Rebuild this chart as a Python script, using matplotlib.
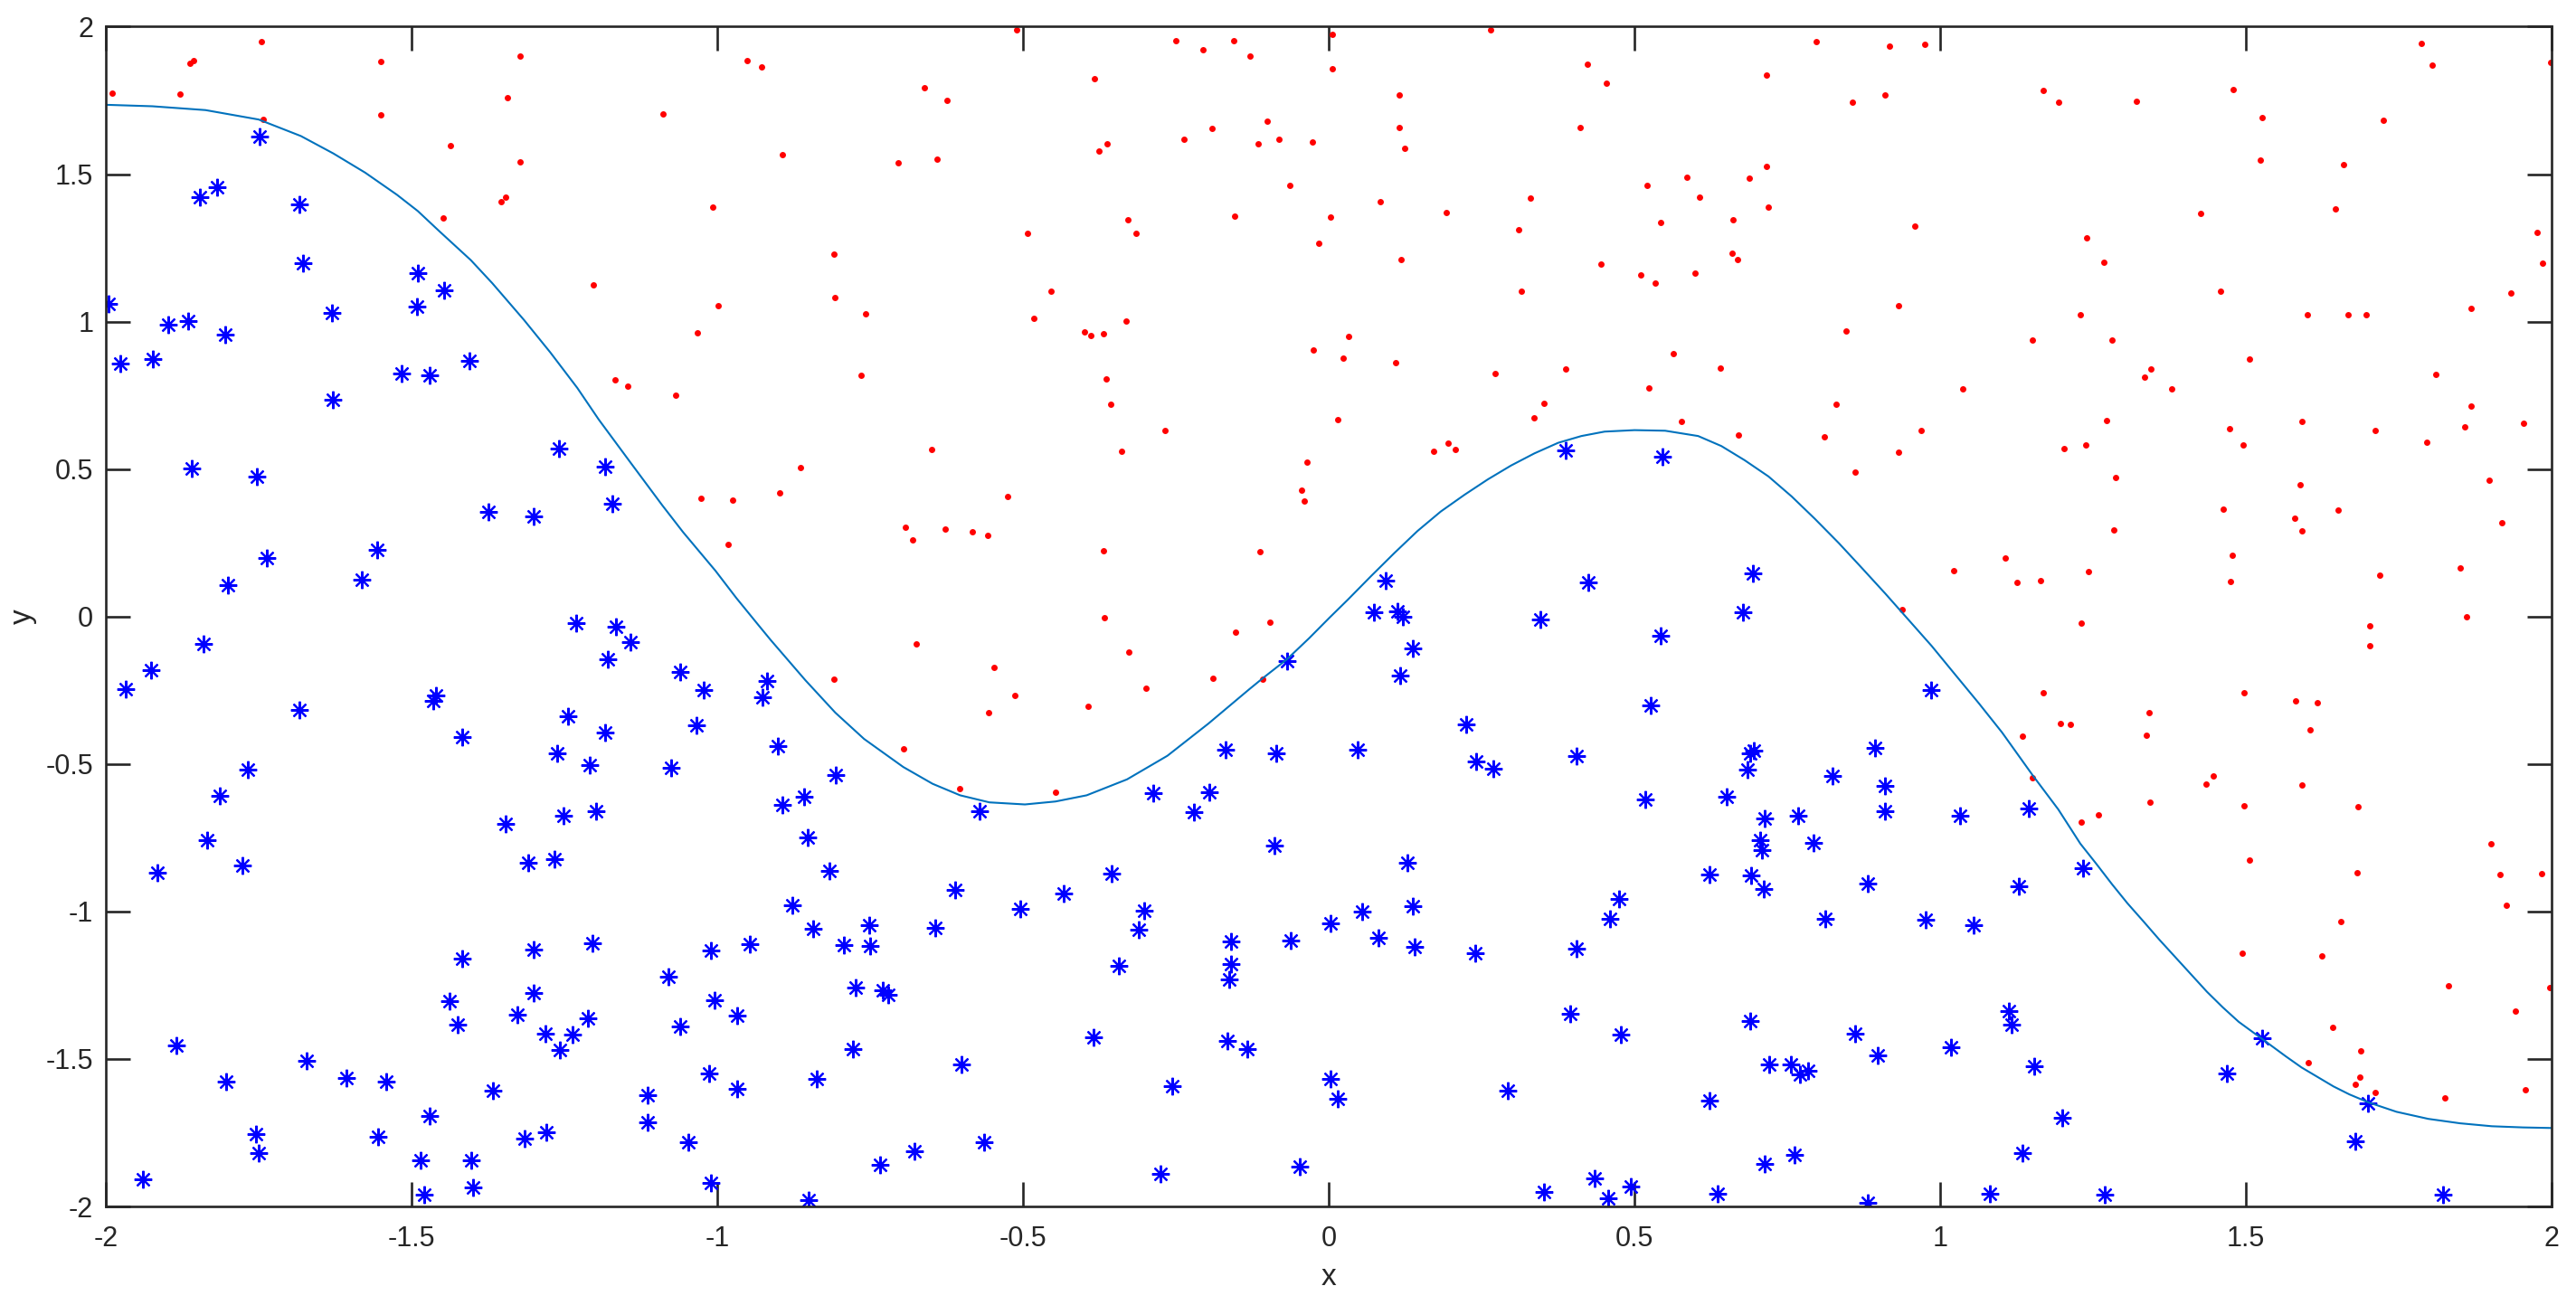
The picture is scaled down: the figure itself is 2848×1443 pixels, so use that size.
import matplotlib
matplotlib.use("Agg")
import matplotlib.pyplot as plt

# curve
curve_x = [-2.000, -1.924, -1.837, -1.750, -1.681, -1.628, -1.576, -1.524, -1.490, -1.455,
           -1.403, -1.368, -1.316, -1.273, -1.229, -1.194, -1.142, -1.090, -1.056, -1.003,
           -0.969, -0.934, -0.913, -0.856, -0.807, -0.760, -0.696, -0.648, -0.603, -0.555,
           -0.497, -0.447, -0.396, -0.330, -0.264, -0.197, -0.131, -0.108, -0.068, -0.032,
           0.001, 0.031, 0.069, 0.107, 0.145, 0.183, 0.222, 0.260, 0.298, 0.336,
           0.375, 0.413, 0.451, 0.500, 0.550, 0.604, 0.642, 0.680, 0.719, 0.757,
           0.795, 0.834, 0.872, 0.910, 0.948, 0.986, 1.024, 1.063, 1.101, 1.151,
           1.193, 1.229, 1.255, 1.281, 1.306, 1.332, 1.358, 1.384, 1.410, 1.436,
           1.462, 1.488, 1.527, 1.565, 1.591, 1.617, 1.643, 1.669, 1.700, 1.746,
           1.798, 1.850, 1.902, 1.953, 2.000]
curve_y = [1.735, 1.730, 1.717, 1.685, 1.629, 1.570, 1.505, 1.430, 1.375, 1.307,
           1.208, 1.130, 1.005, 0.895, 0.775, 0.668, 0.522, 0.377, 0.286, 0.155,
           0.063, -0.026, -0.079, -0.216, -0.326, -0.415, -0.510, -0.567, -0.606, -0.630,
           -0.637, -0.627, -0.606, -0.552, -0.472, -0.363, -0.248, -0.209, -0.144, -0.073,
           -0.004, 0.057, 0.137, 0.215, 0.290, 0.356, 0.413, 0.465, 0.512, 0.553,
           0.589, 0.612, 0.627, 0.632, 0.630, 0.612, 0.578, 0.530, 0.475, 0.407,
           0.331, 0.249, 0.164, 0.078, -0.011, -0.100, -0.196, -0.294, -0.393, -0.538,
           -0.654, -0.770, -0.838, -0.908, -0.972, -1.033, -1.095, -1.154, -1.213, -1.272,
           -1.325, -1.374, -1.433, -1.491, -1.529, -1.561, -1.593, -1.620, -1.647, -1.679,
           -1.703, -1.718, -1.728, -1.732, -1.734]

# points under the curve (blue asterisks)
blue_x = [-1.748, -1.846, -1.818, -1.683, -1.678, -1.490, -1.447, -1.491, -1.996, -1.630,
          -1.898, -1.865, -1.805, -1.977, -1.923, -1.516, -1.470, -1.405, -1.629, -1.259,
          -1.183, -1.172, -1.859, -1.753, -1.374, -1.301, -1.737, -1.556, -1.582, -1.800,
          -1.968, -1.926, -1.840, -1.684, -1.464, -1.460, -1.417, -1.231, -1.166, -1.142,
          -1.179, -1.061, -1.022, -1.244, -1.184, -1.262, -1.209, -1.034, -1.075, -1.768,
          -1.814, -1.834, -1.777, -1.916, -1.346, -1.252, -1.199, -1.309, -1.266, -1.417,
          -1.300, -1.204, -1.010, -1.080, -1.004, -1.438, -1.425, -1.301, -1.327, -1.281,
          -1.237, -1.258, -1.211, -1.061, -1.884, -1.672, -1.803, -1.606, -1.542, -1.367,
          -1.013, -1.114, -1.114, -1.470, -1.754, -1.750, -1.555, -1.315, -1.279, -1.485,
          -1.402, -1.048, -1.940, -1.480, -1.400, -1.010,
          -0.919, -0.926, -0.901, -0.807, -0.858, -0.893, -0.852, -0.816, -0.878, -0.843,
          -0.947, -0.793, -0.751, -0.750, -0.774, -0.729, -0.721, -0.968, -0.779, -0.968,
          -0.837, -0.601, -0.734, -0.678, -0.564, -0.851, -0.571, -0.611, -0.643, -0.505,
          -0.434, -0.355, -0.302, -0.311, -0.344, -0.385, -0.256, -0.275, -0.287, -0.221,
          -0.195, -0.169, -0.086, -0.068, -0.089, -0.160, -0.160, -0.163, -0.166, -0.134,
          -0.063, 0.003, 0.003, 0.015, -0.048,
          0.388, 0.546, 0.093, 0.425, 0.694, 0.074, 0.112, 0.121, 0.346, 0.677,
          0.543, 0.137,
          0.117, 0.047, 0.225, 0.241, 0.269, 0.405, 0.527, 0.518, 0.650, 0.685,
          0.689, 0.695, 0.713, 0.706, 0.709, 0.768, 0.793, 0.823, 0.893, 0.909,
          0.910, 0.985, 1.032, 1.145, 0.128, 0.055, 0.137, 0.081, 0.141, 0.239,
          0.405, 0.475, 0.460, 0.623, 0.691, 0.711, 0.881, 0.812, 0.976, 1.055,
          1.128, 0.394, 0.478, 0.689, 0.720, 0.755, 0.771, 0.784, 0.861, 0.897,
          1.017, 1.112, 1.117, 1.154, 1.200, 1.134, 0.293, 0.622, 0.713, 0.761,
          0.352, 0.435, 0.457, 0.494, 0.636, 0.882, 1.081,
          1.234, 1.269, 1.468, 1.527, 1.678, 1.700, 1.822]
blue_y = [1.626, 1.422, 1.456, 1.397, 1.199, 1.165, 1.105, 1.051, 1.059, 1.030,
          0.991, 1.001, 0.955, 0.857, 0.873, 0.824, 0.817, 0.866, 0.735, 0.571,
          0.507, 0.381, 0.503, 0.473, 0.354, 0.341, 0.197, 0.227, 0.124, 0.105,
          -0.246, -0.183, -0.093, -0.318, -0.287, -0.266, -0.409, -0.023, -0.034, -0.088,
          -0.145, -0.188, -0.249, -0.338, -0.394, -0.464, -0.505, -0.370, -0.513, -0.520,
          -0.608, -0.758, -0.843, -0.869, -0.704, -0.676, -0.661, -0.836, -0.821, -1.161,
          -1.129, -1.107, -1.132, -1.221, -1.300, -1.303, -1.383, -1.277, -1.350, -1.414,
          -1.417, -1.468, -1.361, -1.391, -1.454, -1.507, -1.576, -1.565, -1.576, -1.607,
          -1.548, -1.624, -1.715, -1.693, -1.756, -1.819, -1.765, -1.769, -1.749, -1.843,
          -1.844, -1.782, -1.908, -1.959, -1.936, -1.919,
          -0.220, -0.274, -0.439, -0.538, -0.611, -0.638, -0.749, -0.862, -0.979, -1.060,
          -1.110, -1.114, -1.047, -1.116, -1.258, -1.268, -1.281, -1.354, -1.465, -1.602,
          -1.567, -1.520, -1.859, -1.814, -1.782, -1.979, -0.661, -0.927, -1.055, -0.991,
          -0.938, -0.873, -0.998, -1.061, -1.184, -1.425, -1.593, -1.890, -0.600, -0.664,
          -0.595, -0.450, -0.465, -0.152, -0.775, -1.102, -1.177, -1.231, -1.439, -1.465,
          -1.097, -1.039, -1.567, -1.634, -1.866,
          0.564, 0.542, 0.122, 0.116, 0.146, 0.016, 0.019, 0.000, -0.011, 0.014,
          -0.066, -0.107,
          -0.201, -0.452, -0.367, -0.490, -0.517, -0.474, -0.301, -0.620, -0.611, -0.520,
          -0.464, -0.456, -0.684, -0.757, -0.791, -0.674, -0.767, -0.541, -0.444, -0.575,
          -0.661, -0.248, -0.676, -0.652, -0.835, -1.001, -0.983, -1.090, -1.121, -1.142,
          -1.127, -0.956, -1.025, -0.875, -0.879, -0.923, -0.906, -1.024, -1.028, -1.045,
          -0.913, -1.346, -1.417, -1.372, -1.517, -1.517, -1.551, -1.541, -1.414, -1.488,
          -1.461, -1.339, -1.383, -1.524, -1.699, -1.819, -1.607, -1.641, -1.856, -1.825,
          -1.951, -1.904, -1.973, -1.933, -1.958, -1.989, -1.958,
          -0.854, -1.960, -1.550, -1.430, -1.780, -1.650, -1.960]

# points over the curve (red dots)
red_x = [-1.990, -1.879, -1.863, -1.856, -1.745, -1.742, -1.551, -1.550, -1.322, -1.343,
         -1.437, -1.322, -1.354, -1.346, -1.449, -1.089, -1.008, -1.203, -0.998, -1.032,
         -1.168, -1.146, -1.068, -1.027,
         -0.952, -0.927, -0.893, -0.662, -0.624, -0.705, -0.640, -0.511, -0.383, -0.363,
         -0.376, -0.250, -0.206, -0.156, -0.129, 0.006, 0.005, -0.237, -0.191, -0.101,
         -0.115, -0.081, -0.027, -0.064, -0.154, 0.003, -0.016, -0.493, -0.328, -0.315,
         -0.809, -0.808, -0.757, -0.765, -0.455, -0.483, -0.400, -0.389, -0.369, -0.332,
         0.032, -0.025, 0.024, -0.364, -0.356, -0.268, 0.014, -0.339, -0.649, -0.864,
         -0.898, -0.975, -0.982, -0.526, -0.693, -0.681, -0.628, -0.583, -0.558, -0.368,
         -0.113, -0.036, -0.044, -0.040,
         -0.674, -0.809, -0.696, -0.603, -0.548, -0.514, -0.556, -0.447, -0.394, -0.367,
         -0.327, -0.299, -0.189, -0.152, -0.108, -0.097,
         0.265, 0.423, 0.454, 0.115, 0.115, 0.124, 0.411, 0.084, 0.192, 0.329,
         0.311, 0.118, 0.315, 0.445, 0.521, 0.586, 0.607, 0.542, 0.510, 0.534,
         0.599, 0.660, 0.669, 0.661, 0.687, 0.716, 0.719, 0.715, 0.797, 0.917,
         0.975, 0.856, 0.909, 0.959, 1.169, 1.193, 0.932, 0.846, 1.150, 0.109,
         0.272, 0.388, 0.563, 0.640, 0.524, 0.352, 0.336, 0.576, 0.670, 0.829,
         0.810, 1.037, 0.968, 0.932, 0.860, 1.203, 0.171, 0.195, 0.207, 1.022,
         1.106, 1.125, 1.164, 0.937,
         1.169, 1.197, 1.212, 1.135, 1.151,
         1.786, 1.804, 1.998, 1.479, 1.320, 1.527, 1.724, 1.523, 1.660, 1.425,
         1.646, 1.239, 1.268, 1.976, 1.985,
         1.229, 1.458, 1.281, 1.505, 1.344, 1.334, 1.379, 1.600, 1.667, 1.696,
         1.868, 1.933, 1.810, 1.868, 1.272, 1.238, 1.473, 1.495, 1.591, 1.711,
         1.795, 1.857, 1.954, 1.287, 1.588, 1.897, 1.463, 1.284, 1.579, 1.591,
         1.651, 1.918, 1.477, 1.243, 1.474, 1.719, 1.851, 1.231, 1.702, 1.703,
         1.860, 1.497, 1.581, 1.616, 1.342, 1.337, 1.604,
         1.231, 1.259, 1.343, 1.435, 1.447, 1.497, 1.505, 1.494, 1.592, 1.683,
         1.681, 1.655, 1.624, 1.641, 1.602, 1.688, 1.686, 1.678, 1.711, 1.825,
         1.831, 1.901, 1.915, 1.926, 1.983, 1.997, 1.940, 1.957]
red_y = [1.775, 1.771, 1.875, 1.886, 1.948, 1.685, 1.882, 1.700, 1.899, 1.758,
         1.598, 1.540, 1.406, 1.421, 1.351, 1.704, 1.387, 1.125, 1.054, 0.962,
         0.802, 0.780, 0.750, 0.400,
         1.886, 1.862, 1.567, 1.792, 1.751, 1.537, 1.551, 1.990, 1.825, 1.604,
         1.577, 1.953, 1.921, 1.951, 1.900, 1.973, 1.856, 1.617, 1.654, 1.678,
         1.604, 1.617, 1.610, 1.462, 1.359, 1.355, 1.265, 1.300, 1.344, 1.300,
         1.228, 1.083, 1.027, 0.817, 1.103, 1.010, 0.964, 0.954, 0.958, 1.001,
         0.951, 0.905, 0.875, 0.805, 0.719, 0.630, 0.669, 0.560, 0.565, 0.506,
         0.420, 0.396, 0.244, 0.407, 0.303, 0.259, 0.296, 0.286, 0.275, 0.222,
         0.219, 0.522, 0.427, 0.392,
         -0.093, -0.211, -0.449, -0.582, -0.172, -0.266, -0.327, -0.597, -0.305, -0.004,
         -0.120, -0.244, -0.209, -0.053, -0.212, -0.018,
         1.988, 1.874, 1.807, 1.767, 1.659, 1.587, 1.659, 1.405, 1.370, 1.418,
         1.310, 1.209, 1.102, 1.196, 1.461, 1.488, 1.421, 1.335, 1.159, 1.132,
         1.164, 1.231, 1.211, 1.344, 1.485, 1.525, 1.389, 1.837, 1.948, 1.934,
         1.940, 1.743, 1.767, 1.325, 1.784, 1.744, 1.053, 0.969, 0.936, 0.862,
         0.823, 0.838, 0.891, 0.841, 0.775, 0.724, 0.674, 0.663, 0.616, 0.721,
         0.609, 0.772, 0.630, 0.556, 0.489, 0.571, 0.560, 0.587, 0.565, 0.155,
         0.197, 0.116, 0.123, 0.025,
         -0.257, -0.364, -0.366, -0.407, -0.546,
         1.944, 1.868, 1.880, 1.787, 1.748, 1.691, 1.684, 1.547, 1.533, 1.367,
         1.381, 1.284, 1.200, 1.301, 1.199,
         1.024, 1.103, 0.936, 0.874, 0.840, 0.811, 0.771, 1.023, 1.024, 1.023,
         1.046, 1.097, 0.821, 0.714, 0.665, 0.583, 0.636, 0.582, 0.662, 0.631,
         0.592, 0.644, 0.654, 0.472, 0.447, 0.461, 0.363, 0.295, 0.333, 0.290,
         0.360, 0.317, 0.209, 0.152, 0.120, 0.141, 0.164, -0.021, -0.030, -0.098,
         -0.002, -0.258, -0.285, -0.292, -0.325, -0.402, -0.384,
         -0.696, -0.672, -0.630, -0.567, -0.541, -0.641, -0.826, -1.141, -0.571, -0.645,
         -0.868, -1.033, -1.152, -1.392, -1.512, -1.472, -1.560, -1.587, -1.612, -1.631,
         -1.251, -0.770, -0.874, -0.979, -0.872, -1.257, -1.337, -1.604]

xticks = [-2, -1.5, -1, -0.5, 0, 0.5, 1, 1.5, 2]
xtick_labels = ["-2", "-1.5", "-1", "-0.5", "0", "0.5", "1", "1.5", "2"]
yticks = [-2, -1.5, -1, -0.5, 0, 0.5, 1, 1.5, 2]
ytick_labels = ["-2", "-1.5", "-1", "-0.5", "0", "0.5", "1", "1.5", "2"]

plt.rcParams["font.family"] = ["Liberation Sans", "DejaVu Sans"]
axcol = "#262626"

fig = plt.figure(figsize=(28.48, 14.43), dpi=100)
ax = fig.add_axes([0.0411, 0.0755, 0.9495, 0.9041])

ax.plot(red_x, red_y, linestyle="none", marker="o", markersize=5,
        markerfacecolor="red", markeredgewidth=0)
ax.plot(blue_x, blue_y, linestyle="none", marker=(8, 2, 0), markersize=14,
        markeredgecolor="blue", markeredgewidth=1.6)
ax.plot(curve_x, curve_y, color="#0072BD", linewidth=1.5)

ax.set_xlim(-2, 2)
ax.set_ylim(-2, 2)
ax.set_xticks(xticks)
ax.set_xticklabels(xtick_labels)
ax.set_yticks(yticks)
ax.set_yticklabels(ytick_labels)

ax.tick_params(axis="both", direction="in", length=19.5, width=1.9, color=axcol,
               labelcolor=axcol, labelsize=22, top=True, right=True)
ax.tick_params(axis="x", pad=15)
ax.tick_params(axis="y", pad=10)
for s in ax.spines.values():
    s.set_linewidth(1.9)
    s.set_color(axcol)

ax.set_xlabel("x", fontsize=24, color=axcol)
ax.set_ylabel("y", fontsize=24, color=axcol)
ax.xaxis.set_label_coords(0.5, -0.048)
ax.yaxis.set_label_coords(-0.028, 0.5)

fig.savefig("out.png", dpi=100)
